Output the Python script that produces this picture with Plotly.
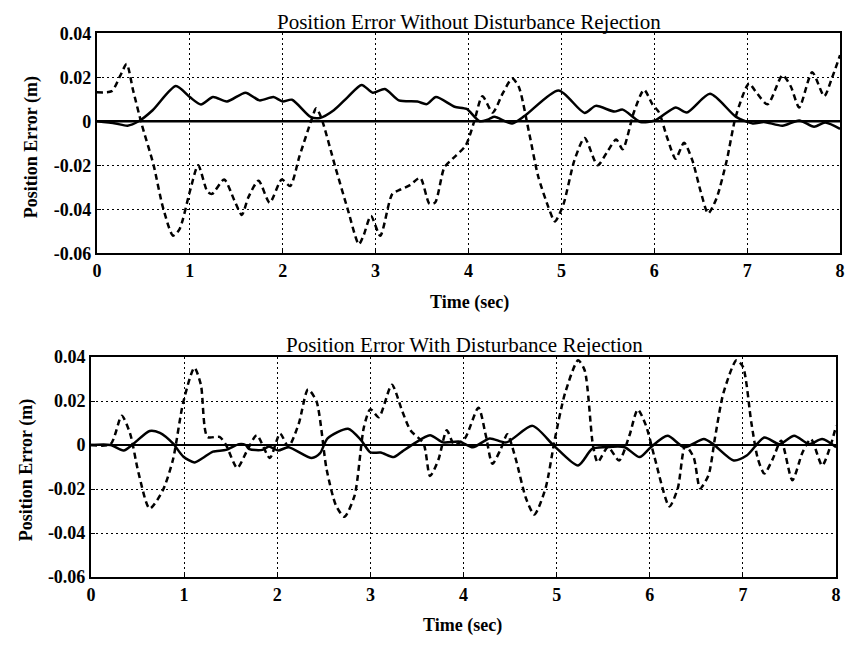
import plotly.graph_objects as go

# ---- Top: without disturbance rejection ----
top_solid_t = [0, 0.2, 0.33, 0.45, 0.6, 0.85, 1.0, 1.12, 1.25, 1.4, 1.6, 1.75, 1.9, 2.0, 2.1, 2.3, 2.4, 2.55, 2.7, 2.85, 2.97, 3.1, 3.25, 3.45, 3.55, 3.65, 3.85, 3.98, 4.12, 4.22, 4.28, 4.47, 4.61, 4.97, 5.25, 5.37, 5.57, 5.66, 5.85, 6.01, 6.23, 6.35, 6.6, 6.88, 7.06, 7.18, 7.38, 7.56, 7.72, 7.84, 8.0]
top_solid_y = [0, -0.001, -0.002, 0, 0.005, 0.016, 0.011, 0.0076, 0.011, 0.009, 0.013, 0.0095, 0.011, 0.009, 0.0098, 0.002, 0.0015, 0.005, 0.011, 0.0165, 0.013, 0.0147, 0.0095, 0.009, 0.0078, 0.011, 0.0066, 0.0056, 0.0, 0.001, 0.002, -0.001, 0.0026, 0.014, 0.0038, 0.007, 0.0044, 0.0053, -0.0003, 0.0004, 0.0063, 0.004, 0.0125, 0.002, -0.001, -0.0003, -0.002, 0.0004, -0.0025, -0.0006, -0.0035]

top_dash_t = [0, 0.16, 0.25, 0.32, 0.39, 0.48, 0.61, 0.71, 0.82, 0.89, 1.0, 1.09, 1.19, 1.24, 1.37, 1.48, 1.56, 1.63, 1.74, 1.86, 1.99, 2.08, 2.18, 2.31, 2.36, 2.41, 2.57, 2.7, 2.82, 2.87, 2.95, 3.05, 3.18, 3.27, 3.37, 3.48, 3.58, 3.64, 3.74, 3.83, 3.97, 4.06, 4.15, 4.26, 4.37, 4.47, 4.54, 4.65, 4.75, 4.86, 4.93, 5.02, 5.14, 5.25, 5.39, 5.5, 5.59, 5.66, 5.78, 5.89, 5.98, 6.05, 6.14, 6.23, 6.32, 6.41, 6.5, 6.58, 6.67, 6.78, 6.88, 7.02, 7.09, 7.22, 7.38, 7.47, 7.56, 7.7, 7.83, 7.91, 8.0]
top_dash_y = [0.0132, 0.0137, 0.0206, 0.026, 0.014, -0.001, -0.0199, -0.039, -0.052, -0.049, -0.032, -0.020, -0.032, -0.033, -0.0265, -0.036, -0.0426, -0.0346, -0.027, -0.037, -0.0265, -0.0294, -0.016, 0.0007, 0.0059, 0.0022, -0.0213, -0.040, -0.0559, -0.052, -0.043, -0.052, -0.033, -0.031, -0.029, -0.0257, -0.0375, -0.037, -0.021, -0.017, -0.011, -0.0003, 0.0114, 0.004, 0.0128, 0.0194, 0.0158, -0.0047, -0.025, -0.039, -0.0455, -0.038, -0.0178, -0.0076, -0.020, -0.0134, -0.0083, -0.0127, 0.0041, 0.0143, 0.0077, 0.0041, -0.0076, -0.017, -0.0098, -0.0178, -0.032, -0.0419, -0.035, -0.0178, 0.0026, 0.0172, 0.0136, 0.0077, 0.0209, 0.0158, 0.0063, 0.0223, 0.0114, 0.0194, 0.030]

# ---- Bottom: with disturbance rejection ----
bot_solid_t = [0, 0.21, 0.35, 0.46, 0.63, 0.74, 0.88, 0.99, 1.11, 1.2, 1.31, 1.45, 1.59, 1.66, 1.7, 1.84, 1.91, 2.01, 2.12, 2.37, 2.46, 2.54, 2.76, 2.9, 3.0, 3.11, 3.25, 3.34, 3.46, 3.64, 3.78, 3.96, 4.1, 4.28, 4.46, 4.74, 4.97, 5.23, 5.38, 5.52, 5.73, 5.89, 6.01, 6.19, 6.37, 6.58, 6.68, 6.9, 7.04, 7.23, 7.39, 7.55, 7.71, 7.85, 8.0]
bot_solid_y = [0, 0, -0.0025, 0.0007, 0.0064, 0.0055, 0.0007, -0.0052, -0.0079, -0.0059, -0.003, -0.0022, 0.0004, 0, -0.0019, -0.0022, -0.0007, -0.0025, -0.001, -0.0059, -0.0037, 0.003, 0.0074, 0.0022, -0.0034, -0.0034, -0.0055, -0.003, 0.0004, 0.0044, 0.0012, 0.0015, -0.001, 0.003, 0.0012, 0.0087, -0.0003, -0.0093, -0.0018, -0.001, -0.001, -0.0055, -0.001, 0.0042, -0.001, 0.0027, 0.0004, -0.007, -0.0048, 0.0034, 0.0004, 0.0042, 0.0004, 0.0027, -0.001]

bot_dash_t = [0, 0.21, 0.33, 0.42, 0.51, 0.63, 0.77, 0.88, 0.99, 1.11, 1.18, 1.25, 1.38, 1.45, 1.57, 1.68, 1.78, 1.92, 2.03, 2.12, 2.23, 2.33, 2.42, 2.53, 2.63, 2.72, 2.83, 2.93, 3.0, 3.09, 3.23, 3.34, 3.43, 3.57, 3.64, 3.73, 3.82, 3.9, 4.01, 4.16, 4.24, 4.31, 4.4, 4.47, 4.56, 4.67, 4.76, 4.88, 4.98, 5.09, 5.23, 5.3, 5.39, 5.44, 5.55, 5.67, 5.78, 5.87, 5.96, 6.05, 6.21, 6.3, 6.38, 6.47, 6.54, 6.63, 6.7, 6.79, 6.93, 7.0, 7.09, 7.16, 7.23, 7.32, 7.41, 7.53, 7.64, 7.73, 7.85, 7.94, 8.0]
bot_dash_y = [0, 0.0004, 0.0133, 0.0052, -0.0126, -0.0289, -0.0207, -0.0067, 0.0193, 0.0351, 0.0274, 0.0037, 0.0037, 0, -0.0104, -0.0022, 0.0044, -0.0059, 0.0052, -0.0007, 0.0096, 0.0252, 0.020, -0.0111, -0.0274, -0.0326, -0.023, 0.0081, 0.0163, 0.0126, 0.0274, 0.0156, 0.0067, 0.0007, -0.0141, -0.0067, 0.0067, 0.0002, 0.0027, 0.0169, 0.0042, -0.0085, -0.0018, 0.0049, -0.0063, -0.0242, -0.0316, -0.0197, 0.0027, 0.0236, 0.0385, 0.034, -0.0003, -0.0078, -0.001, -0.007, 0.0042, 0.0161, 0.0087, -0.0055, -0.0279, -0.0197, -0.0003, -0.0055, -0.0197, -0.0137, 0.0034, 0.0236, 0.0385, 0.0355, 0.0101, -0.0063, -0.013, -0.0063, 0.0019, -0.016, -0.0033, 0.0027, -0.0093, -0.0003, 0.0087]

x_ticks = [0, 1, 2, 3, 4, 5, 6, 7, 8]
y_ticks = [0.04, 0.02, 0, -0.02, -0.04, -0.06]
y_tick_text = ["0.04", "0.02", "0", "-0.02", "-0.04", "-0.06"]

title_top = "Position Error Without Disturbance Rejection"
title_bot = "Position Error With Disturbance Rejection"
x_title = "Time (sec)"
y_title = "Position Error (m)"

FONT = "Liberation Serif"

fig = go.Figure()
for xs, ys, dash, ax in [
    (top_solid_t, top_solid_y, "solid", ("x", "y")),
    (top_dash_t, top_dash_y, "6px,4px", ("x", "y")),
    (bot_solid_t, bot_solid_y, "solid", ("x2", "y2")),
    (bot_dash_t, bot_dash_y, "6px,4px", ("x2", "y2")),
]:
    fig.add_trace(go.Scatter(
        x=xs, y=ys, mode="lines", xaxis=ax[0], yaxis=ax[1],
        line=dict(color="black", width=2.5, dash=dash, shape="spline", smoothing=0.7),
        showlegend=False, hoverinfo="skip"))

W, H = 851, 651
def px(x):
    return x / W
def py(y):
    return 1 - y / H

axis_common = dict(
    showline=True, linecolor="black", linewidth=2, mirror=True,
    showgrid=True, gridcolor="black", griddash="2px,3px", gridwidth=1.2,
    ticks="inside", ticklen=4, tickcolor="black",
    tickfont=dict(family=FONT, size=18, color="black", weight="bold"),
    zeroline=False,
)

fig.update_layout(
    width=W, height=H,
    margin=dict(l=0, r=0, t=0, b=0),
    paper_bgcolor="white", plot_bgcolor="white",
    xaxis=dict(domain=[px(93), px(845)], range=[0, 8], tickvals=x_ticks, anchor="y", **axis_common),
    yaxis=dict(domain=[py(251), py(24)], range=[-0.06, 0.04], tickvals=y_ticks, ticktext=y_tick_text, anchor="x", **axis_common),
    xaxis2=dict(domain=[px(87), px(841)], range=[0, 8], tickvals=x_ticks, anchor="y2", **axis_common),
    yaxis2=dict(domain=[py(585), py(358)], range=[-0.06, 0.04], tickvals=y_ticks, ticktext=y_tick_text, anchor="x2", **axis_common),
)

# zero reference lines
for xa, ya, w in [("x", "y", 2.5), ("x2", "y2", 2)]:
    fig.add_shape(type="line", xref=xa, yref=ya, x0=0, x1=8, y0=0, y1=0,
                  line=dict(color="black", width=w))

title_font = dict(family=FONT, size=21, color="black")
ann_font = dict(family=FONT, size=18, color="black", weight="bold")
fig.add_annotation(text=title_top, x=px(470), y=py(12), xref="paper", yref="paper",
                   showarrow=False, font=title_font, xanchor="center", yanchor="middle")
fig.add_annotation(text=title_bot, x=px(465), y=py(346), xref="paper", yref="paper",
                   showarrow=False, font=title_font, xanchor="center", yanchor="middle")
fig.add_annotation(text=x_title, x=px(470), y=py(302), xref="paper", yref="paper",
                   showarrow=False, font=ann_font, xanchor="center", yanchor="middle")
fig.add_annotation(text=x_title, x=px(463), y=py(635), xref="paper", yref="paper",
                   showarrow=False, font=ann_font, xanchor="center", yanchor="middle")
fig.add_annotation(text=y_title, x=px(27), y=py(142), xref="paper", yref="paper",
                   showarrow=False, font=ann_font, textangle=-90, xanchor="center", yanchor="middle")
fig.add_annotation(text=y_title, x=px(22), y=py(475), xref="paper", yref="paper",
                   showarrow=False, font=ann_font, textangle=-90, xanchor="center", yanchor="middle")

fig.write_html("out.html")
